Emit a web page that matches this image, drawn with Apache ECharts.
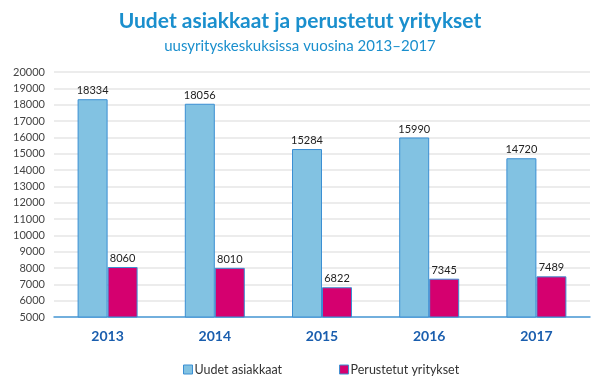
<!DOCTYPE html>
<html><head><meta charset="utf-8">
<script src="https://cdn.jsdelivr.net/npm/echarts@6/dist/echarts.min.js"></script>
<style>html,body{margin:0;padding:0;background:#fff}#c{width:600px;height:390px}</style>
</head><body><div id="c"></div>
<script>
const categories = ['2013','2014','2015','2016','2017'];
const uudet = [18334, 18056, 15284, 15990, 14720];
const perustetut = [8060, 8010, 6822, 7345, 7489];
const yTicks = [5000, 20000, 1000];

const chart = echarts.init(document.getElementById('c'));
chart.setOption({
  animation: false,
  textStyle: { fontFamily: 'Lato' },
  title: [
    { text: 'Uudet asiakkaat ja perustetut yritykset', left: 'center', top: 6,
      textStyle: { fontSize: 21, fontWeight: 'bold', color: '#1a8fcd', fontFamily: 'Lato' } },
    { text: 'uusyrityskeskuksissa vuosina 2013–2017', left: 'center', top: 34,
      textStyle: { fontSize: 15, fontWeight: 'normal', color: '#1a8fcd', fontFamily: 'Lato' } }
  ],
  legend: {
    bottom: 9, left: 178, itemWidth: 9, itemHeight: 9, itemGap: 57,
    icon: 'rect',
    textStyle: { fontSize: 12.5, color: '#333', fontFamily: 'Lato', padding: [0, 0, 0, -3] },
    data: [
      { name: 'Uudet asiakkaat', itemStyle: { color: '#82c2e2', borderColor: '#3b8fd3', borderWidth: 1 } },
      { name: 'Perustetut yritykset', itemStyle: { color: '#d5006f', borderColor: '#3b8fd3', borderWidth: 1 } }
    ]
  },
  grid: { left: 54, right: 10, top: 72, bottom: 73 },
  xAxis: {
    type: 'category', data: categories,
    axisLine: { lineStyle: { color: '#4a9ad8', width: 1.5 } },
    axisTick: { show: false },
    axisLabel: { fontSize: 14, fontWeight: 'bold', color: '#1a5eae', margin: 12, fontFamily: 'Lato' }
  },
  yAxis: {
    type: 'value', min: yTicks[0], max: yTicks[1], interval: yTicks[2],
    axisLine: { show: false }, axisTick: { show: false },
    axisLabel: { fontSize: 11, color: '#444', margin: 9, fontFamily: 'Lato', formatter: v => String(v) },
    splitLine: { lineStyle: { color: '#e6e6e6', width: 1.5 } }
  },
  series: [
    { name: 'Uudet asiakkaat', type: 'bar', data: uudet, barWidth: 30, barGap: '0%',
      itemStyle: { color: '#82c2e2', borderColor: '#3b8fd3', borderWidth: 1 },
      label: { show: true, position: 'top', fontSize: 11, color: '#222', distance: 3 } },
    { name: 'Perustetut yritykset', type: 'bar', data: perustetut, barWidth: 30,
      itemStyle: { color: '#d5006f', borderColor: '#3b8fd3', borderWidth: 1 },
      label: { show: true, position: 'top', fontSize: 11, color: '#222', distance: 3 } }
  ]
});
</script></body></html>
